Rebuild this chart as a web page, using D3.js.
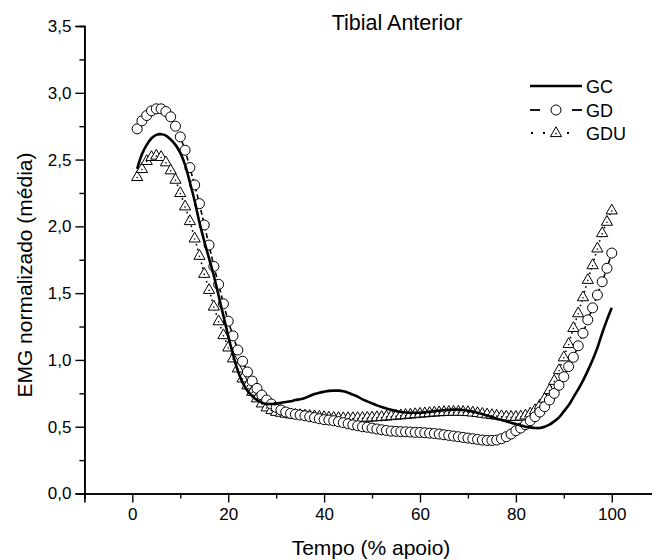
<!DOCTYPE html>
<html>
<head>
<meta charset="utf-8">
<script src="https://cdn.jsdelivr.net/npm/d3@7"></script>
<style>
  html, body { margin: 0; padding: 0; background: #fff; }
  svg { display: block; font-family: "Liberation Sans", Arial, sans-serif; }
</style>
</head>
<body>
<svg id="chart" width="652" height="560"></svg>
<script>
// ---- data ----
const tempo = d3.range(1, 101); // % apoio, 1..100

const GC = [2.43,2.54,2.61,2.66,2.685,2.69,2.68,2.65,2.61,2.55,
2.46,2.33,2.19,2.03,1.89,1.76,1.63,1.48,1.33,1.18,
1.04,0.92,0.83,0.77,0.73,0.70,0.68,0.67,0.67,0.67,
0.68,0.685,0.69,0.70,0.705,0.715,0.73,0.745,0.755,0.762,
0.768,0.77,0.77,0.765,0.755,0.74,0.725,0.705,0.69,0.675,
0.66,0.648,0.637,0.627,0.618,0.61,0.607,0.605,0.605,0.605,
0.608,0.612,0.617,0.62,0.623,0.626,0.628,0.628,0.625,0.62,
0.613,0.605,0.595,0.583,0.572,0.56,0.55,0.54,0.53,0.52,
0.51,0.50,0.495,0.49,0.49,0.50,0.515,0.54,0.57,0.615,
0.66,0.72,0.78,0.845,0.92,1.0,1.09,1.20,1.30,1.39];

const GD = [2.73,2.79,2.83,2.865,2.88,2.88,2.86,2.82,2.75,2.67,
2.57,2.44,2.31,2.17,2.01,1.86,1.70,1.566,1.42,1.29,
1.18,1.074,0.99,0.91,0.842,0.787,0.737,0.70,0.67,0.645,
0.625,0.61,0.60,0.593,0.588,0.582,0.575,0.568,0.56,0.553,
0.55,0.545,0.538,0.53,0.522,0.514,0.507,0.50,0.496,0.49,
0.483,0.477,0.472,0.467,0.465,0.463,0.462,0.46,0.458,0.457,
0.455,0.452,0.449,0.445,0.44,0.435,0.43,0.425,0.42,0.415,
0.41,0.405,0.40,0.397,0.397,0.40,0.41,0.425,0.445,0.47,
0.49,0.515,0.545,0.575,0.61,0.65,0.70,0.75,0.81,0.874,
0.95,1.02,1.106,1.20,1.30,1.39,1.486,1.585,1.686,1.80];

const GDU = [2.37,2.43,2.49,2.52,2.53,2.52,2.48,2.42,2.35,2.25,
2.15,2.04,1.91,1.78,1.645,1.525,1.40,1.29,1.186,1.094,
1.012,0.937,0.862,0.81,0.762,0.713,0.675,0.645,0.625,0.612,
0.605,0.598,0.593,0.59,0.588,0.585,0.582,0.579,0.576,0.573,
0.57,0.568,0.566,0.565,0.565,0.565,0.566,0.567,0.568,0.57,
0.572,0.574,0.577,0.58,0.583,0.586,0.589,0.592,0.595,0.598,
0.601,0.604,0.607,0.609,0.611,0.612,0.613,0.613,0.612,0.61,
0.607,0.603,0.598,0.593,0.588,0.584,0.58,0.577,0.575,0.575,
0.577,0.585,0.60,0.625,0.66,0.71,0.775,0.844,0.924,1.02,
1.12,1.24,1.35,1.47,1.60,1.71,1.835,1.95,2.035,2.12];

const xMajorTicks = [0, 20, 40, 60, 80, 100];
const xMinorTicks = [-10, 10, 30, 50, 70, 90, 110];
const yMajorTicks = [0, 0.5, 1.0, 1.5, 2.0, 2.5, 3.0, 3.5];
const yMinorTicks = [0.25, 0.75, 1.25, 1.75, 2.25, 2.75, 3.25];

const seriesNames = ["GC", "GD", "GDU"];
const titleText = "Tibial Anterior";
const xTitle = "Tempo (% apoio)";
const yTitle = "EMG normalizado (média)";

// ---- layout ----
const svg = d3.select("#chart");
const x = d3.scaleLinear().domain([-10, 110]).range([84.4, 659.7]);
const y = d3.scaleLinear().domain([0, 3.5]).range([493.5, 26]);
const fmt = d => d3.format(".1f")(d).replace(".", ",");

// axes
const gx = svg.append("g").attr("transform", `translate(0,${y(0)})`);
gx.call(d3.axisBottom(x).tickValues(xMajorTicks).tickSize(9).tickPadding(5).tickFormat(d3.format("d")));
gx.append("g").call(d3.axisBottom(x).tickValues(xMinorTicks).tickSize(5).tickFormat(""));

const gy = svg.append("g").attr("transform", `translate(${x(-10)},0)`);
gy.call(d3.axisLeft(y).tickValues(yMajorTicks).tickSize(9).tickPadding(4).tickFormat(fmt));
gy.append("g").call(d3.axisLeft(y).tickValues(yMinorTicks).tickSize(5).tickFormat(""));

svg.selectAll(".domain").attr("stroke", "#000").attr("stroke-width", 1.6);
svg.selectAll(".tick line").attr("stroke", "#000").attr("stroke-width", 1.4);
svg.selectAll(".tick text").attr("font-family", "Liberation Sans, Arial, sans-serif")
   .attr("font-size", 17).attr("fill", "#000");
gx.select("g").select(".domain").remove();
gy.select("g").select(".domain").remove();

// titles
svg.append("text").attr("x", 397).attr("y", 30).attr("text-anchor", "middle")
  .attr("font-size", 21.5).text(titleText);
svg.append("text").attr("x", 371).attr("y", 555).attr("text-anchor", "middle")
  .attr("font-size", 21).text(xTitle);
svg.append("text").attr("transform", "translate(32,275) rotate(-90)").attr("text-anchor", "middle")
  .attr("font-size", 21).text(yTitle);

// ---- series ----
const ptsGDU = tempo.map((t, i) => [t, GDU[i]]);
const ptsGD = tempo.map((t, i) => [t, GD[i]]);
const ptsGC = tempo.map((t, i) => [t, GC[i]]);
const line = d3.line().x(d => x(d[0])).y(d => y(d[1]));
const smooth = d3.line().x(d => x(d[0])).y(d => y(d[1])).curve(d3.curveCatmullRom);

const triPath = "M0,-6.2L5.6,3.6L-5.6,3.6Z";

// GDU: dotted line + triangles
svg.append("path").attr("d", line(ptsGDU)).attr("fill", "none").attr("stroke", "#000")
  .attr("stroke-width", 1.6).attr("stroke-dasharray", "1.6,3.2");
const gTri = svg.append("g");
ptsGDU.forEach(p => {
  gTri.append("path").attr("d", triPath)
    .attr("transform", `translate(${x(p[0])},${y(p[1])})`)
    .attr("fill", "#fff").attr("stroke", "#000").attr("stroke-width", 1);
  gTri.append("circle").attr("cx", x(p[0])).attr("cy", y(p[1]) + 0.6).attr("r", 0.8).attr("fill", "#000");
});

// GD: dashed line + circles
svg.append("path").attr("d", line(ptsGD)).attr("fill", "none").attr("stroke", "#000")
  .attr("stroke-width", 1.6).attr("stroke-dasharray", "5,3");
svg.append("g").selectAll("circle").data(ptsGD).join("circle")
  .attr("cx", d => x(d[0])).attr("cy", d => y(d[1])).attr("r", 5)
  .attr("fill", "#fff").attr("stroke", "#000").attr("stroke-width", 1);

// GC: solid line
svg.append("path").attr("d", smooth(ptsGC)).attr("fill", "none").attr("stroke", "#000")
  .attr("stroke-width", 2.6).attr("stroke-linejoin", "round");

// ---- legend ----
const lg = svg.append("g");
const lx0 = 530, lx1 = 582, lsym = 556, ltx = 586;
const rows = [86, 110, 133];
lg.append("line").attr("x1", lx0).attr("x2", lx1).attr("y1", rows[0]).attr("y2", rows[0])
  .attr("stroke", "#000").attr("stroke-width", 2.6);
lg.append("line").attr("x1", lx0).attr("x2", lx0 + 10).attr("y1", rows[1]).attr("y2", rows[1])
  .attr("stroke", "#000").attr("stroke-width", 1.8);
lg.append("line").attr("x1", lx1 - 10).attr("x2", lx1).attr("y1", rows[1]).attr("y2", rows[1])
  .attr("stroke", "#000").attr("stroke-width", 1.8);
lg.append("circle").attr("cx", lsym).attr("cy", rows[1]).attr("r", 5)
  .attr("fill", "#fff").attr("stroke", "#000").attr("stroke-width", 1);
lg.append("line").attr("x1", lx0 + 1).attr("x2", lx0 + 41).attr("y1", rows[2]).attr("y2", rows[2])
  .attr("stroke", "#000").attr("stroke-width", 1.8).attr("stroke-dasharray", "2,10");
lg.append("path").attr("d", triPath).attr("transform", `translate(${lsym},${rows[2]})`)
  .attr("fill", "#fff").attr("stroke", "#000").attr("stroke-width", 1);
lg.append("circle").attr("cx", lsym).attr("cy", rows[2] + 0.6).attr("r", 0.8).attr("fill", "#000");

seriesNames.forEach((n, i) => {
  lg.append("text").attr("x", ltx).attr("y", rows[i] + 6.5).attr("font-size", 18).text(n);
});
</script>
</body>
</html>
